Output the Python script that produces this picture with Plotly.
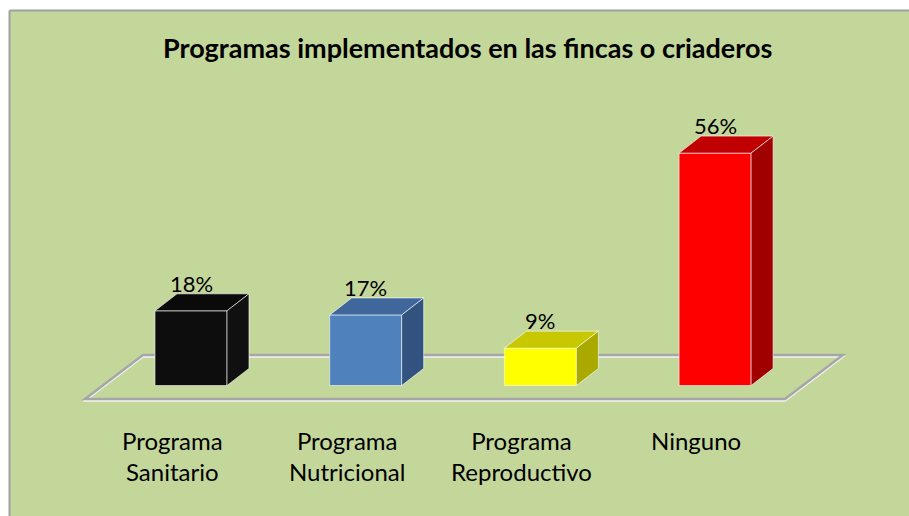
import plotly.graph_objects as go

# ---- data ----
categories = ["Programa<br>Sanitario", "Programa<br>Nutricional", "Programa<br>Reproductivo", "Ninguno"]
values = [18, 17, 9, 56]
value_labels = ["18%", "17%", "9%", "56%"]
front_colors = ["#0D0D0D", "#4F81BD", "#FFFF00", "#FF0000"]
top_colors = ["#0A0A0A", "#3F679B", "#C8C800", "#C00000"]
side_colors = ["#101010", "#32537F", "#A9A900", "#A00000"]
title_text = "Programas implementados en las fincas o criaderos"

# ---- geometry (pixel scale of the reference) ----
W, H = 909, 516
PX_X = 174.7          # px per category step
PX_Y = 4.15           # px per percentage point
X0PX, Y0PX = 191.0, 385.5
xr = [-X0PX / PX_X, (W - X0PX) / PX_X]
yr = [-(H - Y0PX) / PX_Y, Y0PX / PX_Y]
bw = 72 / PX_X
dx = 22 / PX_X
dy = 17 / PX_Y

xs = list(range(len(values)))

fig = go.Figure()

# front faces
fig.add_trace(go.Bar(
    x=xs, y=values, width=bw,
    marker=dict(color=front_colors, line=dict(color="rgba(255,255,255,0.55)", width=1)),
    hoverinfo="skip", showlegend=False,
))

# top and side faces
for x, v, tc, sc in zip(xs, values, top_colors, side_colors):
    l, r = x - bw / 2, x + bw / 2
    fig.add_trace(go.Scatter(
        x=[l, l + dx, r + dx, r, l], y=[v, v + dy, v + dy, v, v],
        fill="toself", fillcolor=tc, mode="lines",
        line=dict(color="rgba(255,255,255,0.6)", width=1),
        hoverinfo="skip", showlegend=False,
    ))
    fig.add_trace(go.Scatter(
        x=[r, r + dx, r + dx, r, r], y=[0, dy, v + dy, v, 0],
        fill="toself", fillcolor=sc, mode="lines",
        line=dict(color="rgba(255,255,255,0.6)", width=1),
        hoverinfo="skip", showlegend=False,
    ))

shapes = []
# chart background
x_left = 9.5 / W
y_top = 1 - 10.5 / H
shapes.append(dict(type="rect", xref="paper", yref="paper",
                   x0=x_left, x1=1.02, y0=-0.02, y1=y_top,
                   fillcolor="#C4D79B", line=dict(width=0), layer="below"))
shapes.append(dict(type="line", xref="paper", yref="paper",
                   x0=x_left, x1=x_left, y0=-0.02, y1=y_top,
                   line=dict(color="#A0A0A0", width=2), layer="below"))
shapes.append(dict(type="line", xref="paper", yref="paper",
                   x0=x_left, x1=1.02, y0=y_top, y1=y_top,
                   line=dict(color="#A0A0A0", width=2), layer="below"))

# floor outline (parallelogram)
fl = (-0.607, -3.25)
bl = (-0.275, 7.35)
br = (3.732, 7.35)
fr = (3.400, -3.25)
path = f"M {fl[0]},{fl[1]} L {bl[0]},{bl[1]} L {br[0]},{br[1]} L {fr[0]},{fr[1]} Z"
off = 1.8 / PX_Y
path_w = f"M {fl[0]},{fl[1]-off} L {bl[0]},{bl[1]-off} L {br[0]},{br[1]-off} L {fr[0]},{fr[1]-off} Z"
shapes.append(dict(type="path", xref="x", yref="y", path=path_w,
                   line=dict(color="#F2F2F2", width=2), layer="below"))
shapes.append(dict(type="path", xref="x", yref="y", path=path,
                   line=dict(color="#A6A6A6", width=2.5), layer="below"))

annotations = []
annotations.append(dict(text=f"<b>{title_text}</b>", xref="paper", yref="paper",
                        x=467.5 / W, y=1 - 48 / H, xanchor="center", yanchor="middle",
                        showarrow=False, font=dict(family="Lato", size=27, color="#000000")))
for x, v, t in zip(xs, values, value_labels):
    annotations.append(dict(text=t, x=x, y=v + dy, xref="x", yref="y",
                            xanchor="center", yanchor="bottom", yshift=-5,
                            showarrow=False, font=dict(family="Lato", size=22, color="#000000")))
for x, c in zip(xs, categories):
    annotations.append(dict(text=c, x=x, y=-9.3, xref="x", yref="y",
                            xanchor="center", yanchor="top", xshift=-19, align="center",
                            showarrow=False, font=dict(family="Lato", size=24, color="#000000")))

fig.update_layout(
    width=W, height=H,
    margin=dict(l=0, r=0, t=0, b=0),
    paper_bgcolor="#FFFFFF",
    plot_bgcolor="rgba(0,0,0,0)",
    xaxis=dict(range=xr, visible=False, fixedrange=True),
    yaxis=dict(range=yr, visible=False, fixedrange=True),
    shapes=shapes,
    annotations=annotations,
    showlegend=False,
    bargap=0,
)

fig.write_html("out.html",
               config={"displayModeBar": False, "staticPlot": True},
               post_script="document.body.style.margin='0px';document.body.style.overflow='hidden';")
